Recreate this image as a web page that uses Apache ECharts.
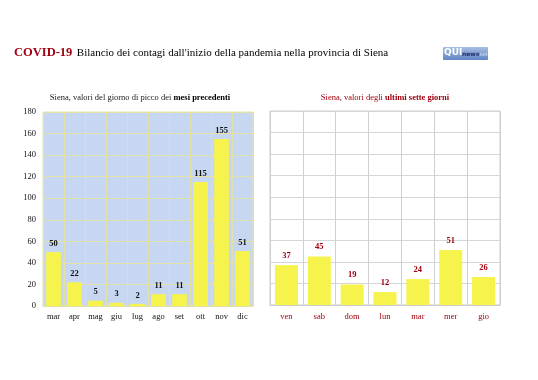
<!DOCTYPE html>
<html><head><meta charset="utf-8">
<script src="https://cdn.jsdelivr.net/npm/echarts@6/dist/echarts.min.js"></script>
<style>html,body{margin:0;padding:0;background:#fff}#c{width:538px;height:380px}</style>
</head><body><div id="c"></div>
<script>
const months = ['mar','apr','mag','giu','lug','ago','set','ott','nov','dic'];
const monthPeaks = [50,22,5,3,2,11,11,115,155,51];
const days = ['ven','sab','dom','lun','mar','mer','gio'];
const dayValues = [37,45,19,12,24,51,26];
const yTicks = [0,20,40,60,80,100,120,140,160,180];

const F = 'Liberation Serif';
const RED = '#a00010';
const chart = echarts.init(document.getElementById('c'));
chart.setOption({
  animation:false,
  textStyle:{fontFamily:F},
  title:[
    {text:'{r|COVID-19} {b|Bilancio dei contagi dall\'inizio della pandemia nella provincia di Siena}',left:14,top:44,padding:0,
     textStyle:{fontWeight:'normal',rich:{r:{fontFamily:F,fontSize:12.5,fontWeight:'bold',color:RED},b:{fontFamily:F,fontSize:11,fontWeight:'normal',color:'#000'}}}},
    {text:'{n|Siena, valori del giorno di picco dei }{b|mesi precedenti}',left:140,top:93,textAlign:'center',padding:0,
     textStyle:{fontWeight:'normal',rich:{n:{fontFamily:F,fontSize:8.5,fontWeight:'normal',color:'#222'},b:{fontFamily:F,fontSize:8.5,fontWeight:'bold',color:'#000'}}}},
    {text:'{n|Siena, valori degli }{b|ultimi sette giorni}',left:385,top:93,textAlign:'center',padding:0,
     textStyle:{fontWeight:'normal',rich:{n:{fontFamily:F,fontSize:8.5,fontWeight:'normal',color:RED},b:{fontFamily:F,fontSize:8.5,fontWeight:'bold',color:RED}}}}
  ],
  graphic:[
    {type:'rect',left:443,top:47,shape:{width:45,height:13,r:1},
     style:{fill:new echarts.graphic.LinearGradient(0,0,0,1,[{offset:0,color:'#a6bde4'},{offset:1,color:'#6185c4'}])}},
    {type:'text',left:444,top:48,style:{text:'QUI',fontFamily:'DejaVu Sans',fontWeight:'bold',fontSize:9,fill:'#fff'}},
    {type:'text',left:462,top:51,style:{text:'news',fontFamily:'DejaVu Sans',fontWeight:'bold',fontSize:6,fill:'#1a2f6a'}},
    {type:'text',left:478,top:52,style:{text:'.net',fontFamily:'DejaVu Sans',fontSize:5,fill:'#dbe4f5'}}
  ],
  grid:[
    {left:43,top:112,width:210,height:194,show:true,backgroundColor:'#c7d7f2',borderColor:'#e2e2a8',borderWidth:1},
    {left:270,top:111,width:230,height:194,show:true,backgroundColor:'#fff',borderColor:'#cccccc',borderWidth:1}
  ],
  xAxis:[
    {type:'category',gridIndex:0,data:months,
     axisLine:{lineStyle:{color:'#e2e2a8'}},axisTick:{show:false},
     splitLine:{show:true,lineStyle:{color:'#e2e2a8'}},
     axisLabel:{color:'#111',fontFamily:F,fontSize:8.5,margin:6}},
    {type:'category',gridIndex:1,data:days,
     axisLine:{lineStyle:{color:'#cccccc'}},axisTick:{show:false},
     splitLine:{show:true,lineStyle:{color:'#d0d0d0'}},
     axisLabel:{color:RED,fontFamily:F,fontSize:8.5,margin:7}}
  ],
  yAxis:[
    {type:'value',gridIndex:0,min:yTicks[0],max:yTicks[yTicks.length-1],interval:20,
     axisLine:{show:false},axisTick:{show:false},
     splitLine:{lineStyle:{color:'#e2e2a8'}},
     axisLabel:{color:'#111',fontFamily:F,fontSize:8.5,margin:7}},
    {type:'value',gridIndex:1,min:yTicks[0],max:yTicks[yTicks.length-1],interval:20,
     axisLine:{show:false},axisTick:{show:false},
     splitLine:{lineStyle:{color:'#d6d6d6'}},
     axisLabel:{show:false}}
  ],
  series:[
    {type:'bar',xAxisIndex:0,yAxisIndex:0,data:monthPeaks,barWidth:'70%',
     itemStyle:{color:'#f6f34c'},
     label:{show:true,position:'top',distance:4,fontFamily:F,fontSize:8.5,fontWeight:'bold',color:'#111'}},
    {type:'bar',xAxisIndex:1,yAxisIndex:1,data:dayValues,barWidth:'70%',
     itemStyle:{color:'#f6f34c'},
     label:{show:true,position:'top',distance:5,fontFamily:F,fontSize:8.5,fontWeight:'bold',color:RED}}
  ]
});
</script></body></html>
